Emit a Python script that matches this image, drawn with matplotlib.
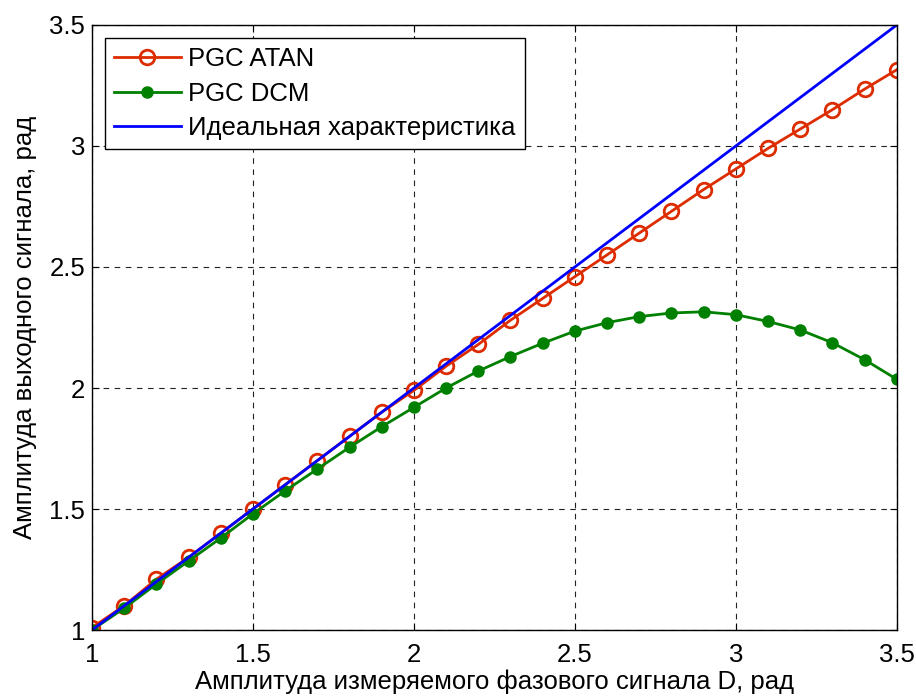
import numpy as np
import matplotlib
matplotlib.use("Agg")
import matplotlib.pyplot as plt

plt.rcParams['font.family'] = ['Liberation Sans', 'DejaVu Sans']

# input amplitude D, rad
d_vals = [1.0, 1.1, 1.2, 1.3, 1.4, 1.5, 1.6, 1.7, 1.8, 1.9, 2.0, 2.1, 2.2,
          2.3, 2.4, 2.5, 2.6, 2.7, 2.8, 2.9, 3.0, 3.1, 3.2, 3.3, 3.4, 3.5]

atan_vals = [1.01, 1.10, 1.21, 1.30, 1.40, 1.50, 1.60, 1.70, 1.80, 1.90, 1.99,
             2.09, 2.18, 2.28, 2.37, 2.46, 2.55, 2.64, 2.73, 2.82, 2.905,
             2.99, 3.07, 3.15, 3.235, 3.315]

dcm_vals = [1.0, 1.09, 1.19, 1.285, 1.38, 1.48, 1.575, 1.665, 1.755, 1.84,
            1.92, 2.00, 2.07, 2.13, 2.185, 2.235, 2.27, 2.295, 2.31, 2.315,
            2.303, 2.275, 2.24, 2.187, 2.117, 2.036]

ideal_x = [1.0, 3.5]
ideal_y = [1.0, 3.5]

labels = ['PGC ATAN', 'PGC DCM', 'Идеальная характеристика']
ticks = [1, 1.5, 2, 2.5, 3, 3.5]
tick_labels = ['1', '1.5', '2', '2.5', '3', '3.5']

FS = 18.5

fig = plt.figure(figsize=(9.16, 6.98), dpi=100)
ax = fig.add_axes([0.1004, 0.0974, 0.8786, 0.8668])

ax.plot(d_vals, atan_vals, color='#dd2c00', lw=2, marker='o', ms=10.5,
        mfc='none', mew=2, label=labels[0])
ax.plot(d_vals, dcm_vals, color='#008000', lw=2, marker='o', ms=8,
        label=labels[1])
ax.plot(ideal_x, ideal_y, color='#0000ff', lw=2, label=labels[2])

ax.set_xlim(1, 3.5)
ax.set_ylim(1, 3.5)
ax.set_xticks(ticks)
ax.set_yticks(ticks)
ax.set_xticklabels(tick_labels)
ax.set_yticklabels(tick_labels)
ax.tick_params(direction='in', top=True, right=True, labelsize=FS, length=5, pad=5)
ax.tick_params(axis='x', pad=9)
ax.grid(True, color='#222222', linestyle=(0, (5, 5)), lw=0.8)
for s in ax.spines.values():
    s.set_linewidth(1)

ax.set_xlabel('Амплитуда измеряемого фазового сигнала D, рад', fontsize=FS, labelpad=2)
ax.set_ylabel('Амплитуда выходного сигнала, рад', fontsize=FS, labelpad=9)

leg = ax.legend(loc='upper left', fontsize=FS, fancybox=False, edgecolor='black',
                framealpha=1, borderaxespad=0.5, handlelength=2.6,
                labelspacing=0.42, borderpad=0.35, handletextpad=0.3)
leg.get_frame().set_linewidth(1)

fig.savefig('out.png', dpi=100)
